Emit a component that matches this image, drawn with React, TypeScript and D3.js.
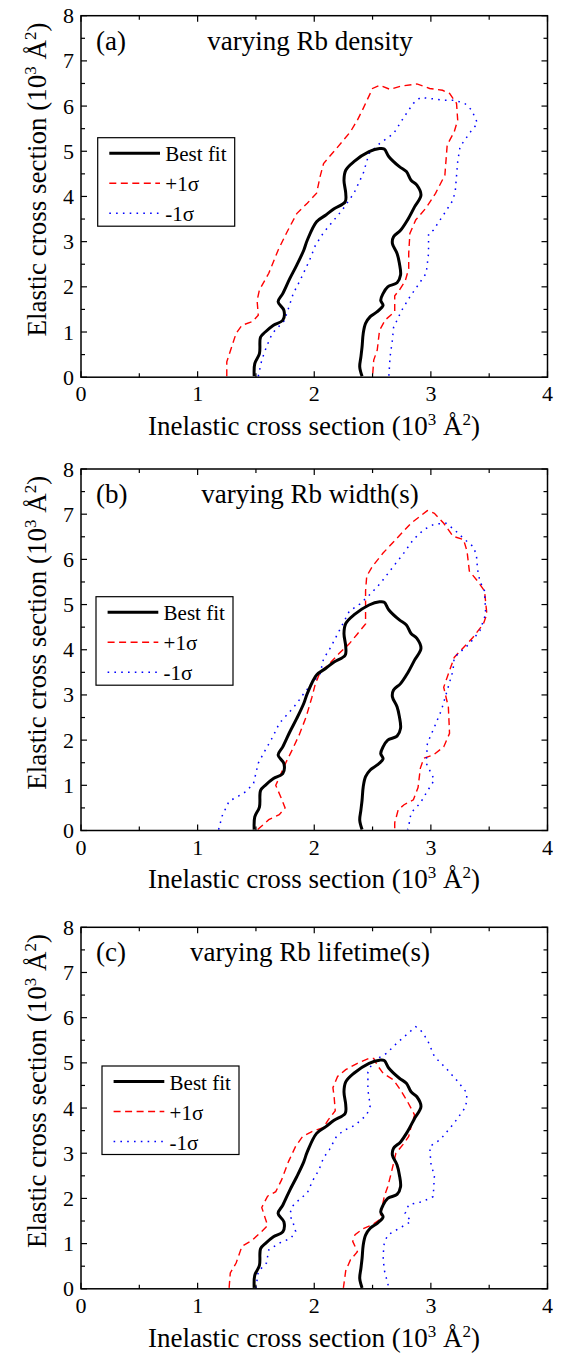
import React from "react";
import * as d3 from "d3";

type P = [number, number];

const xTicks = [0, 1, 2, 3, 4];
const yTicks = [0, 1, 2, 3, 4, 5, 6, 7, 8];
const panelLetters = ["(a)", "(b)", "(c)"];
const panelTitles = ["varying Rb density", "varying Rb width(s)", "varying Rb lifetime(s)"];
const legendLabels = ["Best fit", "+1σ", "-1σ"];

const bestFit: P[] = [
  [1.485, 0.02], [1.49, 0.3], [1.53, 0.52], [1.54, 0.89], [1.58, 1.0], [1.65, 1.15], [1.73, 1.26],
  [1.74, 1.48], [1.69, 1.67], [1.73, 1.85], [1.79, 2.18], [1.85, 2.48], [1.91, 2.81], [1.94, 3.03],
  [2.02, 3.44], [2.1, 3.59], [2.17, 3.73], [2.265, 3.88], [2.27, 4.07], [2.255, 4.36], [2.27, 4.58],
  [2.34, 4.77], [2.47, 4.99], [2.56, 5.06], [2.6, 5.05], [2.64, 4.88], [2.73, 4.66], [2.79, 4.55],
  [2.83, 4.36], [2.88, 4.25], [2.915, 4.03], [2.86, 3.77], [2.8, 3.48], [2.74, 3.25], [2.68, 3.11],
  [2.67, 2.96], [2.71, 2.74], [2.73, 2.52], [2.74, 2.26], [2.71, 2.09], [2.63, 2.0], [2.59, 1.85],
  [2.57, 1.7], [2.59, 1.59], [2.54, 1.45], [2.48, 1.34], [2.44, 1.19], [2.42, 0.97], [2.41, 0.67],
  [2.4, 0.45], [2.39, 0.23], [2.41, 0.02],
];

const aPlus: P[] = [
  [1.25, 0.02], [1.25, 0.34], [1.33, 0.97], [1.38, 1.15], [1.47, 1.23], [1.52, 1.37], [1.51, 1.7],
  [1.53, 1.93], [1.61, 2.3], [1.69, 2.81], [1.76, 3.18], [1.79, 3.33], [1.85, 3.62], [1.94, 3.85],
  [2.02, 4.07], [2.05, 4.44], [2.08, 4.73], [2.19, 5.06], [2.31, 5.43], [2.37, 5.69], [2.42, 5.95],
  [2.5, 6.39], [2.56, 6.46], [2.65, 6.37], [2.74, 6.44], [2.88, 6.49], [2.99, 6.39], [3.1, 6.35],
  [3.16, 6.28], [3.22, 6.06], [3.23, 5.69], [3.2, 5.43], [3.14, 5.14], [3.12, 4.47], [3.04, 4.07],
  [2.96, 3.75], [2.87, 3.48], [2.82, 3.18], [2.81, 2.74], [2.81, 2.4], [2.78, 2.13], [2.73, 1.93],
  [2.69, 1.8], [2.69, 1.45], [2.61, 1.27], [2.56, 1.04], [2.54, 0.6], [2.51, 0.38], [2.5, 0.02],
];

const aMinus: P[] = [
  [1.52, 0.02], [1.55, 0.38], [1.59, 0.67], [1.64, 0.97], [1.74, 1.24], [1.77, 1.45], [1.82, 1.85],
  [1.88, 2.15], [1.96, 2.59], [2.01, 2.92], [2.08, 3.2], [2.17, 3.48], [2.24, 3.7], [2.34, 4.07],
  [2.42, 4.51], [2.47, 4.95], [2.56, 5.17], [2.68, 5.39], [2.77, 5.76], [2.85, 6.06], [2.91, 6.19],
  [2.99, 6.17], [3.1, 6.13], [3.2, 6.13], [3.29, 6.06], [3.35, 5.91], [3.4, 5.62], [3.34, 5.43],
  [3.25, 5.1], [3.23, 4.77], [3.21, 4.14], [3.19, 3.92], [3.12, 3.64], [3.02, 3.25], [2.98, 3.18],
  [2.98, 2.74], [2.96, 2.3], [2.88, 2.0], [2.82, 1.78], [2.75, 1.48], [2.68, 1.1], [2.67, 0.82],
  [2.65, 0.45], [2.64, 0.02],
];

const bPlus: P[] = [
  [1.515, 0.02], [1.61, 0.24], [1.7, 0.35], [1.75, 0.5], [1.71, 0.76], [1.67, 1.0], [1.71, 1.23],
  [1.76, 1.52], [1.81, 1.78], [1.87, 2.11], [1.93, 2.51], [1.98, 2.95], [2.01, 3.25], [2.05, 3.5],
  [2.13, 3.69], [2.21, 3.91], [2.3, 4.13], [2.37, 4.35], [2.44, 4.57], [2.44, 5.3], [2.45, 5.63],
  [2.5, 5.85], [2.59, 6.14], [2.71, 6.47], [2.83, 6.8], [2.97, 7.08], [3.03, 7.02], [3.11, 6.8],
  [3.19, 6.51], [3.28, 6.44], [3.31, 6.18], [3.33, 5.74], [3.4, 5.52], [3.46, 5.3], [3.48, 4.79],
  [3.45, 4.57], [3.36, 4.27], [3.28, 4.05], [3.2, 3.83], [3.16, 3.54], [3.11, 3.17], [3.15, 2.73],
  [3.16, 2.15], [3.11, 1.85], [3.02, 1.67], [2.94, 1.6], [2.91, 1.38], [2.89, 0.95], [2.85, 0.68],
  [2.77, 0.57], [2.72, 0.46], [2.69, 0.17], [2.69, 0.02],
];

const bMinus: P[] = [
  [1.18, 0.02], [1.21, 0.32], [1.27, 0.65], [1.35, 0.76], [1.42, 0.87], [1.48, 1.05], [1.52, 1.49],
  [1.58, 1.78], [1.64, 2.05], [1.7, 2.37], [1.79, 2.63], [1.85, 2.81], [1.91, 3.03], [1.98, 3.25],
  [2.05, 3.47], [2.08, 3.8], [2.14, 4.05], [2.2, 4.35], [2.3, 4.85], [2.39, 5.01], [2.48, 5.23],
  [2.57, 5.48], [2.68, 5.85], [2.76, 6.11], [2.85, 6.44], [2.94, 6.66], [3.03, 6.78], [3.13, 6.8],
  [3.2, 6.66], [3.29, 6.44], [3.36, 6.29], [3.39, 6.11], [3.4, 5.78], [3.42, 5.52], [3.46, 5.3],
  [3.47, 4.79], [3.42, 4.42], [3.33, 4.13], [3.2, 3.83], [3.19, 3.54], [3.14, 3.1], [3.09, 2.66],
  [3.03, 2.29], [2.97, 1.93], [2.96, 1.49], [3.03, 1.12], [2.96, 0.83], [2.91, 0.61], [2.83, 0.39],
  [2.81, 0.1], [2.8, 0.02],
];

const cPlus: P[] = [
  [1.27, 0.02], [1.28, 0.35], [1.33, 0.57], [1.38, 0.94], [1.47, 1.08], [1.55, 1.27], [1.6, 1.4],
  [1.55, 1.8], [1.6, 2.05], [1.67, 2.15], [1.72, 2.41], [1.78, 2.82], [1.84, 3.15], [1.9, 3.37],
  [1.98, 3.48], [2.08, 3.57], [2.12, 3.74], [2.18, 3.94], [2.17, 4.26], [2.16, 4.45], [2.2, 4.7],
  [2.27, 4.85], [2.37, 4.99], [2.47, 5.1], [2.51, 5.1], [2.54, 4.95], [2.59, 4.77], [2.68, 4.62],
  [2.74, 4.4], [2.8, 4.14], [2.86, 3.85], [2.83, 3.59], [2.81, 3.37], [2.76, 3.19], [2.7, 3.0],
  [2.68, 2.78], [2.66, 2.56], [2.63, 2.26], [2.6, 2.04], [2.58, 1.78], [2.56, 1.53], [2.5, 1.42],
  [2.42, 1.33], [2.35, 1.2], [2.33, 1.05], [2.37, 0.82], [2.31, 0.64], [2.27, 0.4], [2.25, 0.02],
];

const cMinus: P[] = [
  [1.5, 0.02], [1.52, 0.38], [1.59, 0.57], [1.61, 0.86], [1.7, 1.01], [1.8, 1.12], [1.84, 1.27],
  [1.82, 1.45], [1.79, 1.64], [1.81, 1.82], [1.87, 1.97], [1.94, 2.12], [1.99, 2.41], [2.04, 2.63],
  [2.08, 2.9], [2.13, 3.08], [2.19, 3.37], [2.25, 3.5], [2.35, 3.62], [2.45, 3.85], [2.48, 4.05],
  [2.46, 4.4], [2.46, 4.8], [2.51, 5.05], [2.62, 5.21], [2.71, 5.44], [2.87, 5.8], [2.91, 5.73],
  [2.97, 5.51], [3.03, 5.14], [3.13, 4.88], [3.22, 4.62], [3.31, 4.33], [3.3, 4.03], [3.2, 3.67],
  [3.08, 3.3], [2.99, 3.15], [3.0, 2.78], [3.03, 2.49], [3.02, 2.04], [2.93, 1.93], [2.81, 1.86],
  [2.78, 1.67], [2.83, 1.49], [2.73, 1.34], [2.63, 1.19], [2.6, 1.01], [2.59, 0.72], [2.6, 0.42],
  [2.64, 0.02],
];

const plusSeries = [aPlus, bPlus, cPlus];
const minusSeries = [aMinus, bMinus, cMinus];

const W = 562;
const H = 1353;
const LEFT = 81;
const RIGHT = 547.5;
const panelTops = [15.7, 469, 927.3];
const PH = 361.5;
const legendPos: P[] = [[97.7, 137.7], [96, 596.7], [102, 1066]];

const FONT = "'Liberation Serif', 'Times New Roman', serif";

function Panel({ idx }: { idx: number }) {
  const top = panelTops[idx];
  const bottom = top + PH;
  const x = d3.scaleLinear().domain([0, 4]).range([LEFT, RIGHT]);
  const y = d3.scaleLinear().domain([0, 8]).range([bottom, top]);
  const line = d3.line<P>().x((d) => x(d[0])).y((d) => y(d[1]));
  const smooth = d3.line<P>().x((d) => x(d[0])).y((d) => y(d[1])).curve(d3.curveCatmullRom.alpha(0.5));
  const xMinor = d3.range(0.5, 4, 1);
  const yMinor = d3.range(0.5, 8, 1);
  const [lx, ly] = legendPos[idx];
  const cy = (top + bottom) / 2 - 17;
  return (
    <g>
      {/* data */}
      <path d={line(plusSeries[idx]) || ""} fill="none" stroke="#ff0000" strokeWidth={1.4} strokeDasharray="7,4.5" />
      <path d={line(minusSeries[idx]) || ""} fill="none" stroke="#0000ff" strokeWidth={1.5} strokeDasharray="1.6,5.2" />
      <path d={smooth(bestFit) || ""} fill="none" stroke="#000" strokeWidth={3} strokeLinejoin="round" />
      {/* frame */}
      <rect x={LEFT} y={top} width={RIGHT - LEFT} height={PH} fill="none" stroke="#000" strokeWidth={1.5} />
      {xTicks.map((t) => (
        <g key={"xt" + t}>
          <line x1={x(t)} x2={x(t)} y1={bottom} y2={bottom - 6} stroke="#000" strokeWidth={1.2} />
          <line x1={x(t)} x2={x(t)} y1={top} y2={top + 6} stroke="#000" strokeWidth={1.2} />
          <text x={x(t)} y={bottom + 24} textAnchor="middle" fontSize={22} fontFamily={FONT}>{t}</text>
        </g>
      ))}
      {xMinor.map((t) => (
        <g key={"xm" + t}>
          <line x1={x(t)} x2={x(t)} y1={bottom} y2={bottom - 4} stroke="#000" strokeWidth={1.2} />
          <line x1={x(t)} x2={x(t)} y1={top} y2={top + 4} stroke="#000" strokeWidth={1.2} />
        </g>
      ))}
      {yTicks.map((t) => (
        <g key={"yt" + t}>
          <line x1={LEFT} x2={LEFT + 6} y1={y(t)} y2={y(t)} stroke="#000" strokeWidth={1.2} />
          <line x1={RIGHT} x2={RIGHT - 6} y1={y(t)} y2={y(t)} stroke="#000" strokeWidth={1.2} />
          <text x={LEFT - 7} y={y(t) + 7.5} textAnchor="end" fontSize={22} fontFamily={FONT}>{t}</text>
        </g>
      ))}
      {yMinor.map((t) => (
        <g key={"ym" + t}>
          <line x1={LEFT} x2={LEFT + 4} y1={y(t)} y2={y(t)} stroke="#000" strokeWidth={1.2} />
          <line x1={RIGHT} x2={RIGHT - 4} y1={y(t)} y2={y(t)} stroke="#000" strokeWidth={1.2} />
        </g>
      ))}
      {/* panel label and title */}
      <text x={96} y={top + 34} fontSize={27} fontFamily={FONT}>{panelLetters[idx]}</text>
      <text x={310} y={top + 34} textAnchor="middle" fontSize={27} fontFamily={FONT}>{panelTitles[idx]}</text>
      {/* axis labels */}
      <text x={314} y={bottom + 57.7} textAnchor="middle" fontSize={27} fontFamily={FONT}>
        Inelastic cross section (10<tspan fontSize={17} dy={-10}>3</tspan>
        <tspan dy={10}> Å</tspan><tspan fontSize={17} dy={-10}>2</tspan><tspan dy={10}>)</tspan>
      </text>
      <text transform={`translate(46,${cy}) rotate(-90)`} textAnchor="middle" fontSize={27} fontFamily={FONT}>
        Elastic cross section (10<tspan fontSize={17} dy={-10}>3</tspan>
        <tspan dy={10}> Å</tspan><tspan fontSize={17} dy={-10}>2</tspan><tspan dy={10}>)</tspan>
      </text>
      {/* legend */}
      <rect x={lx} y={ly} width={137} height={88.5} fill="#fff" stroke="#000" strokeWidth={1.2} />
      {legendLabels.map((lab, i) => {
        const yy = ly + 15.6 + i * 30;
        return (
          <g key={lab}>
            <line x1={lx + 11.6} x2={lx + 62.3} y1={yy} y2={yy}
              stroke={i === 0 ? "#000" : i === 1 ? "#ff0000" : "#0000ff"}
              strokeWidth={i === 0 ? 3 : 1.5}
              strokeDasharray={i === 0 ? undefined : i === 1 ? "7,4.5" : "1.6,5.2"} />
            <text x={lx + 67.6} y={yy + 8} fontSize={21} fontFamily={FONT}>{lab}</text>
          </g>
        );
      })}
    </g>
  );
}

export default function App() {
  return (
    <svg width={W} height={H} viewBox={`0 0 ${W} ${H}`}
      style={{ position: "absolute", left: 0, top: 0, background: "#fff", display: "block" }}>
      <rect x={0} y={0} width={W} height={H} fill="#fff" />
      {[0, 1, 2].map((i) => <Panel key={i} idx={i} />)}
    </svg>
  );
}
